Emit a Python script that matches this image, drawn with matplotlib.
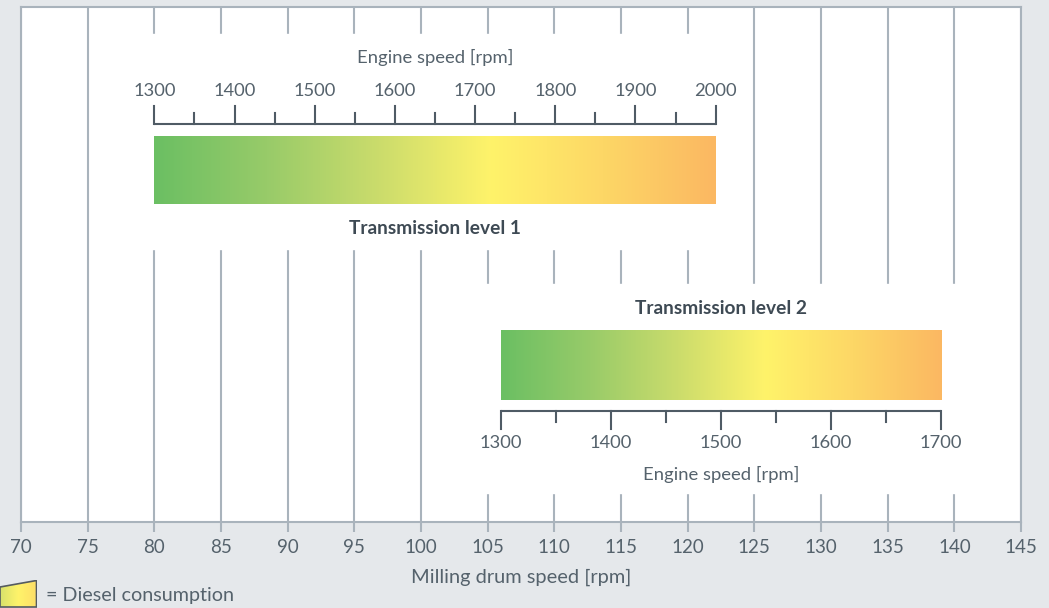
import numpy as np
import matplotlib
matplotlib.use("Agg")
from matplotlib import pyplot as plt
from matplotlib.colors import LinearSegmentedColormap
from matplotlib.patches import Rectangle, Polygon

# data
drum_ticks = list(range(70, 150, 5))           # milling drum speed [rpm]
level1_drum = (80, 122.1)                     # drum speed range of transmission level 1
level1_rpm = (1300, 2000)                     # engine speed range of transmission level 1
level2_drum = (106, 139)
level2_rpm = (1300, 1700)
level1_labels = [1300, 1400, 1500, 1600, 1700, 1800, 1900, 2000]
level2_labels = [1300, 1400, 1500, 1600, 1700]

# style
bg = "#e5e8eb"
grid_c = "#a9b3bc"
text_c = "#55626c"
dark_c = "#3e4a54"
scale_c = "#4f5b65"
font = ["Lato", "DejaVu Sans"]
plt.rcParams["font.family"] = font

fuel = LinearSegmentedColormap.from_list("fuel", [
  (0.0, "#6bbf63"), (0.2, "#98cb69"), (0.4, "#cbdc6c"),
  (0.6, "#fff36a"), (0.8, "#fdd766"), (1.0, "#fbb862")])

W, H = 1049, 608
fig = plt.figure(figsize=(W / 100, H / 100), dpi=100, facecolor=bg)
ax = fig.add_axes([21 / W, (H - 522) / H, 1000 / W, 515 / H])
ax.set_facecolor("white")

# vertical grid lines
for x in drum_ticks:
  ax.axvline(x, color=grid_c, lw=1.5, zorder=1)

# white boxes masking the grid behind each transmission level
ax.add_patch(Rectangle((78, 34), 44.5, 215, color="white", zorder=2))
ax.add_patch(Rectangle((103.5, 284), 38, 209, color="white", zorder=2))

def gradient_bar(drum, y0, y1):
  grad = np.linspace(0, 1, 256).reshape(1, -1)
  ax.imshow(grad, cmap=fuel, aspect="auto", extent=(drum[0], drum[1], y1, y0),
            interpolation="bilinear", zorder=3)

def engine_scale(drum, rpm, labels, y, sign, label_y, title_y):
  to_drum = lambda r: np.interp(r, rpm, drum)
  ax.plot(drum, [y, y], color=scale_c, lw=1.5, zorder=4, solid_capstyle="butt")
  for r in range(rpm[0], rpm[1] + 1, 50):
    length = 18 if r % 100 == 0 else 11
    ax.plot([to_drum(r)] * 2, [y, y + sign * length], color=scale_c, lw=1.5, zorder=4)
  for r in labels:
    ax.text(to_drum(r), label_y, str(r), ha="center", va="center",
            fontsize=13.2, color=text_c, zorder=5)
  ax.text(np.mean(drum), title_y, "Engine speed [rpm]", ha="center", va="center",
          fontsize=13.3, color=text_c, zorder=5)

# transmission level 1
gradient_bar(level1_drum, 136, 204)
engine_scale(level1_drum, level1_rpm, level1_labels, 124, -1, 91, 57)
ax.text(np.mean(level1_drum), 228, "Transmission level 1", ha="center", va="center",
        fontsize=13.8, fontweight="bold", color=dark_c, zorder=5)

# transmission level 2
gradient_bar(level2_drum, 330, 400)
engine_scale(level2_drum, level2_rpm, level2_labels, 411, 1, 443, 474)
ax.text(np.mean(level2_drum), 309, "Transmission level 2", ha="center", va="center",
        fontsize=13.8, fontweight="bold", color=dark_c, zorder=5)

ax.set_xlim(70, 145)
ax.set_ylim(522, 7)
ax.set_yticks([])
ax.set_xticks(drum_ticks)
ax.tick_params(axis="x", length=7, width=1.5, color=grid_c, labelcolor=text_c,
               labelsize=13.5, pad=5)
for s in ax.spines.values():
  s.set_color(grid_c)
  s.set_linewidth(1.5)
ax.set_xlabel("Milling drum speed [rpm]", fontsize=14.4, color=text_c, labelpad=9)

# legend: diesel consumption wedge
lax = fig.add_axes([0, 0, 37 / W, 28 / H])
lax.set_xlim(0, 37)
lax.set_ylim(0, 28)
lax.axis("off")
wedge = Polygon([(0, 1), (0, 21), (36.5, 27.5), (36.5, 1)], closed=True,
                facecolor="none", edgecolor="#555b60", lw=1.2, zorder=3)
lax.add_patch(wedge)
im = lax.imshow(np.linspace(0.45, 0.75, 64).reshape(1, -1), cmap=fuel, aspect="auto",
                extent=(0, 37, 0, 28), zorder=2, vmin=0, vmax=1)
im.set_clip_path(wedge)
fig.text(46 / W, 1 - 595 / H, "= Diesel consumption", ha="left", va="center",
         fontsize=14.2, color=text_c)

fig.savefig("out.png", dpi=100, facecolor=bg)
